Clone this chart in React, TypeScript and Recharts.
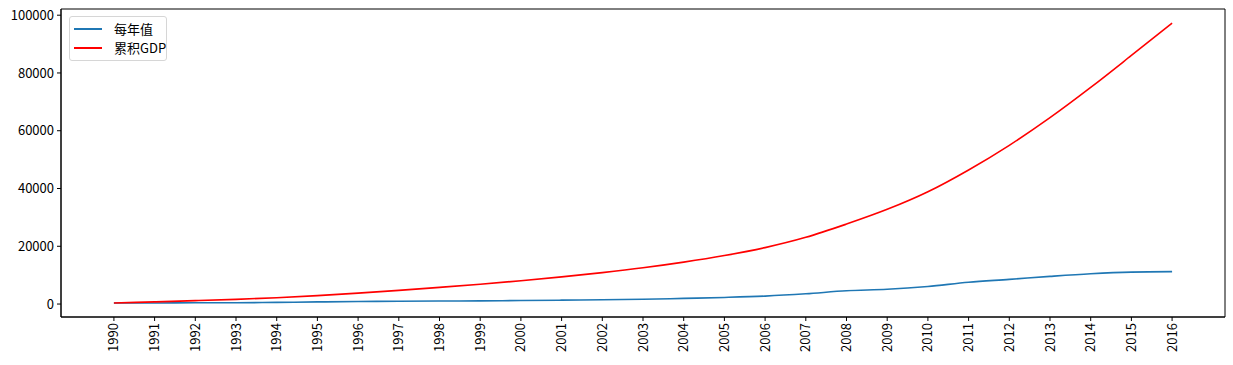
import { LineChart, Line, XAxis, YAxis, ReferenceArea } from 'recharts'

// China GDP per year and running total, 1990-2016
const years = [
  1990, 1991, 1992, 1993, 1994, 1995, 1996, 1997, 1998, 1999, 2000, 2001, 2002,
  2003, 2004, 2005, 2006, 2007, 2008, 2009, 2010, 2011, 2012, 2013, 2014, 2015, 2016
]
const yearly = [
  361, 383, 427, 445, 564, 735, 864, 962, 1029, 1094, 1211, 1339, 1471, 1660,
  1955, 2286, 2752, 3550, 4594, 5102, 6087, 7552, 8532, 9570, 10476, 11062, 11233
]
const cumulative = [
  361, 744, 1171, 1616, 2180, 2915, 3778, 4740, 5769, 6863, 8074, 9414, 10884,
  12545, 14500, 16786, 19538, 23088, 27683, 32784, 38872, 46423, 54955, 64526,
  75001, 86063, 97296
]
const yTicks = [0, 20000, 40000, 60000, 80000, 100000]

const xDomain = [1988.7, 2017.3]
const yDomain = [-4486, 102143]

const data = years.map((y, i) => ({ year: y, yearly: yearly[i], cumulative: cumulative[i] }))

const FONT = '"Noto Sans CJK SC", "DejaVu Sans", sans-serif'

const XTick = (props: any) => {
  const { x, y, payload } = props
  return (
    <g transform={`translate(${x},${y})`}>
      <text
        transform="rotate(-90)"
        textAnchor="end"
        dy="0.35em"
        fontSize={13}
        fontFamily={FONT}
        fill="#000"
      >
        {payload.value}
      </text>
    </g>
  )
}

const series = [
  { name: '每年值', color: '#1f77b4', top: 12 },
  { name: '累积GDP', color: '#ff0000', top: 31 }
]

const LegendBox = () => (
  <div
    style={{
      position: 'absolute',
      left: 69,
      top: 16,
      width: 96,
      height: 43,
      border: '1px solid #d6d6d6',
      borderRadius: 3,
      background: 'rgba(255,255,255,0.8)',
      fontFamily: FONT,
      fontSize: 13
    }}
  >
    {series.map((it) => (
      <div key={it.name}>
        <div
          style={{
            position: 'absolute',
            left: 4,
            top: it.top - 1,
            width: 28,
            height: 2,
            background: it.color
          }}
        />
        <div
          style={{
            position: 'absolute',
            left: 44,
            top: it.top - 9,
            lineHeight: '18px',
            whiteSpace: 'nowrap'
          }}
        >
          {it.name}
        </div>
      </div>
    ))}
  </div>
)

export default function App() {
  return (
    <div style={{ position: 'absolute', left: 0, top: 0, width: 1233, height: 365, background: '#fff' }}>
      <LineChart
        width={1233}
        height={365}
        data={data}
        margin={{ top: 9, right: 8, left: 0, bottom: 0 }}
      >
        <XAxis
          dataKey="year"
          type="number"
          domain={xDomain}
          ticks={years}
          interval={0}
          height={48}
          tickSize={4}
          tickMargin={2}
          stroke="#000"
          tick={<XTick />}
        />
        <YAxis
          domain={yDomain}
          ticks={yTicks}
          width={61}
          tickSize={4}
          tickMargin={3}
          stroke="#000"
          tick={{ fill: '#000', fontSize: 13, fontFamily: FONT }}
        />
        <ReferenceArea
          x1={xDomain[0]}
          x2={xDomain[1]}
          y1={yDomain[0]}
          y2={yDomain[1]}
          fill="none"
          stroke="#000"
          strokeWidth={1}
          ifOverflow="visible"
        />
        <Line
          type="monotone"
          dataKey="yearly"
          name="每年值"
          stroke="#1f77b4"
          strokeWidth={1.6}
          dot={false}
          isAnimationActive={false}
        />
        <Line
          type="monotone"
          dataKey="cumulative"
          name="累积GDP"
          stroke="#ff0000"
          strokeWidth={1.6}
          dot={false}
          isAnimationActive={false}
        />
      </LineChart>
      <LegendBox />
    </div>
  )
}
